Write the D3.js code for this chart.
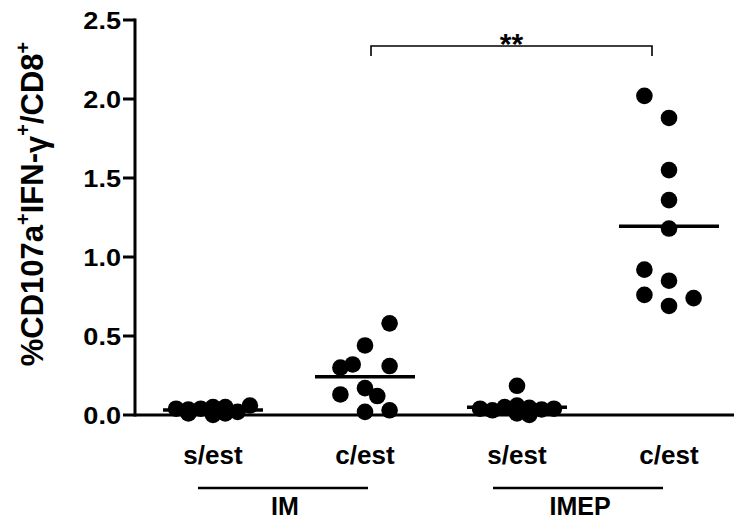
<!DOCTYPE html>
<html>
<head>
<meta charset="utf-8">
<script src="https://cdn.jsdelivr.net/npm/d3@7"></script>
<style>
  html, body { margin: 0; padding: 0; background: #fff; }
  svg { display: block; }
  text { font-family: "Liberation Sans", Arial, sans-serif; font-weight: bold; fill: #000; }
</style>
</head>
<body>
<svg id="chart" width="734" height="520"></svg>
<script>
// ---- data ----
const categories = ["IM s/est", "IM c/est", "IMEP s/est", "IMEP c/est"];
const categoryLabels = ["s/est", "c/est", "s/est", "c/est"];
const groupNames = ["IM", "IMEP"];
const yTicks = [0, 0.5, 1.0, 1.5, 2.0, 2.5];
// values per column
const imSest   = [0.04, 0.01, 0.035, 0.04, 0.00, 0.05, 0.05, 0.01, 0.02, 0.06];
const imCest   = [0.58, 0.44, 0.32, 0.30, 0.31, 0.13, 0.17, 0.12, 0.02, 0.03];
const imepSest = [0.185, 0.04, 0.03, 0.05, 0.06, 0.01, 0.045, 0.00, 0.035, 0.04];
const imepCest = [2.02, 1.88, 1.55, 1.36, 1.18, 0.92, 0.85, 0.76, 0.69, 0.74];
// horizontal scatter slot of each point (Prism-style column spread)
const imSestSlot   = [-3, -2, -2, -1, 0, 0, 1, 1, 2, 3];
const imCestSlot   = [2, 0, -1, -2, 2, -2, 0, 1, 0, 2];
const imepSestSlot = [0, -3, -2, -1, 0, 0, 1, 1, 2, 3];
const imepCestSlot = [-2, 0, 0, 0, 0, -2, 0, -2, 0, 2];
const significance = "**";

const seriesValues = [imSest, imCest, imepSest, imepCest];
const seriesSlots = [imSestSlot, imCestSlot, imepSestSlot, imepCestSlot];

// ---- layout ----
const svg = d3.select("#chart");
const x = d3.scalePoint().domain(categories).range([213, 669]);
const y = d3.scaleLinear().domain([0, 2.5]).range([415, 20]);
const slotW = 12.3, r = 8.3, meanHalf = 50;

// y axis
const yAxis = svg.append("g").attr("transform", "translate(135,0)");
yAxis.append("line").attr("x1", 0).attr("x2", 0).attr("y1", y(2.5) - 1.5).attr("y2", y(0) + 1.5)
  .attr("stroke", "#000").attr("stroke-width", 3);
yTicks.forEach(t => {
  yAxis.append("line").attr("x1", -12).attr("x2", 0).attr("y1", y(t)).attr("y2", y(t))
    .attr("stroke", "#000").attr("stroke-width", 3);
  yAxis.append("g").attr("transform", `translate(-14,${y(t) + 8.5}) scale(1.13,1)`)
    .append("text").attr("text-anchor", "end").attr("font-size", 24).text(d3.format(".1f")(t));
});

// x axis baseline
svg.append("line").attr("x1", 135).attr("x2", 734).attr("y1", y(0)).attr("y2", y(0))
  .attr("stroke", "#000").attr("stroke-width", 3);

// points and mean lines
categories.forEach((c, i) => {
  const vals = seriesValues[i], slots = seriesSlots[i];
  const g = svg.append("g");
  const m = d3.mean(vals);
  g.append("line").attr("x1", x(c) - meanHalf).attr("x2", x(c) + meanHalf)
    .attr("y1", y(m)).attr("y2", y(m)).attr("stroke", "#000").attr("stroke-width", 3.5);
  g.selectAll("circle").data(vals).join("circle")
    .attr("cx", (d, j) => x(c) + slots[j] * slotW)
    .attr("cy", d => y(d)).attr("r", r).attr("fill", "#000");
});

// category labels
categories.forEach((c, i) => {
  svg.append("text").attr("x", x(c)).attr("y", 464).attr("text-anchor", "middle")
    .attr("font-size", 26).text(categoryLabels[i]);
});

// group lines & labels
const groupSpans = [[categories[0], categories[1]], [categories[2], categories[3]]];
const groupShift = [-6, -15];
groupSpans.forEach((s, i) => {
  const cx = (x(s[0]) + x(s[1])) / 2 + groupShift[i];
  svg.append("line").attr("x1", cx - 85).attr("x2", cx + 85).attr("y1", 488).attr("y2", 488)
    .attr("stroke", "#000").attr("stroke-width", 2.5);
  svg.append("text").attr("x", cx + 2).attr("y", 515).attr("text-anchor", "middle")
    .attr("font-size", 25).text(groupNames[i]);
});

// significance bracket
const bx1 = x(categories[1]) + 6, bx2 = x(categories[3]) - 17, by = 46;
svg.append("path").attr("d", `M${bx1},${by + 10}V${by}H${bx2}V${by + 10}`)
  .attr("fill", "none").attr("stroke", "#000").attr("stroke-width", 1.6);
svg.append("text").attr("x", (bx1 + bx2) / 2).attr("y", 54).attr("text-anchor", "middle")
  .attr("font-size", 30).text(significance);

// y axis title
const title = svg.append("text").attr("transform", "translate(43,204) rotate(-90)")
  .attr("text-anchor", "middle").attr("font-size", 31);
title.append("tspan").text("%CD107a");
title.append("tspan").attr("font-size", 20).attr("dy", -13).text("+");
title.append("tspan").attr("dy", 13).text("IFN-");
title.append("tspan").attr("dy", 4).text("γ");
title.append("tspan").attr("font-size", 20).attr("dy", -17).text("+");
title.append("tspan").attr("dy", 13).text("/CD8");
title.append("tspan").attr("font-size", 20).attr("dy", -13).text("+");
</script>
</body>
</html>
